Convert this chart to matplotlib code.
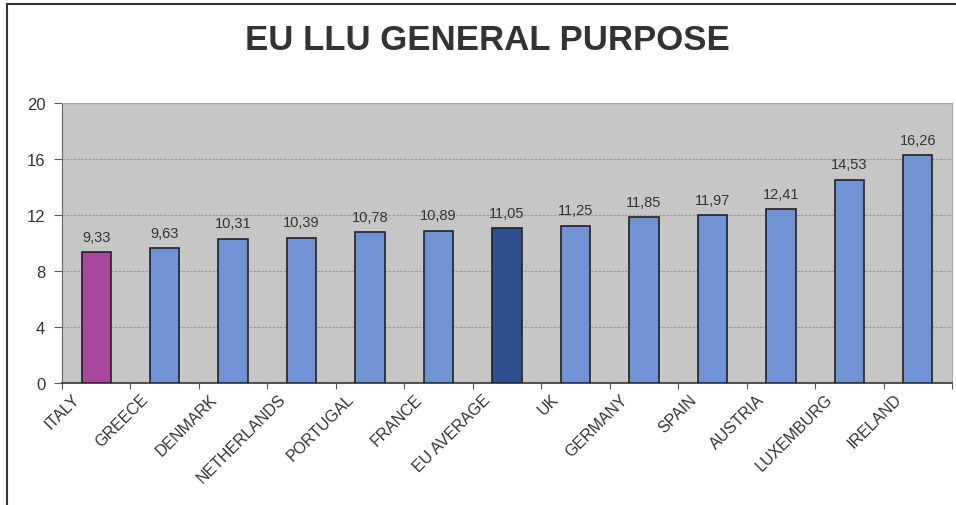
import matplotlib
matplotlib.use('Agg')
import matplotlib.pyplot as plt
from matplotlib.lines import Line2D
from matplotlib.transforms import ScaledTranslation, blended_transform_factory

## chart data
countries = ['ITALY', 'GREECE', 'DENMARK', 'NETHERLANDS', 'PORTUGAL', 'FRANCE',
             'EU AVERAGE', 'UK', 'GERMANY', 'SPAIN', 'AUSTRIA', 'LUXEMBURG', 'IRELAND']
values = [9.33, 9.63, 10.31, 10.39, 10.78, 10.89, 11.05, 11.25, 11.85, 11.97, 12.41, 14.53, 16.26]
value_labels = ['9,33', '9,63', '10,31', '10,39', '10,78', '10,89', '11,05',
                '11,25', '11,85', '11,97', '12,41', '14,53', '16,26']
y_ticks = [0, 4, 8, 12, 16, 20]

plt.rcParams['font.family'] = ['Liberation Sans', 'DejaVu Sans']

colors = []
for c in countries:
    if c == 'ITALY':
        colors.append('#a8489c')
    elif c == 'EU AVERAGE':
        colors.append('#2e5190')
    else:
        colors.append('#7093d6')

fig = plt.figure(figsize=(9.56, 5.06), dpi=100)
ax = fig.add_axes([62/956, 1-384/506, 890/956, 280/506])
ax.set_facecolor('#c6c6c6')

x = list(range(len(countries)))
ax.bar(x, values, width=0.43, color=colors, edgecolor='#222222', linewidth=1.2, zorder=3)

for xi, v, lab in zip(x, values, value_labels):
    ax.text(xi, v + 0.6, lab, ha='center', va='bottom', fontsize=10.5, color='#333333')

ax.set_xlim(-0.5, len(countries) - 0.5)
ax.set_ylim(0, 20)
ax.set_yticks(y_ticks)
ax.set_yticklabels([str(t) for t in y_ticks], fontsize=12, color='#333333')
ax.yaxis.grid(True, color='#9a9a9a', linestyle=(0, (2, 1)), linewidth=0.9, zorder=1)

## ticks between categories
ax.set_xticks([i - 0.5 for i in range(len(countries) + 1)])
ax.set_xticklabels([])
ax.tick_params(axis='x', which='major', length=4, color='#555555')
ax.tick_params(axis='y', length=6, color='#555555', pad=6)

## category names, rotated, set a bit left of each bar centre like excel does
trans = blended_transform_factory(ax.transData, ax.transAxes) + ScaledTranslation(-0.24, -0.08, fig.dpi_scale_trans)
for xi, name in zip(x, countries):
    ax.text(xi, 0, name, transform=trans, rotation=45, rotation_mode='anchor',
            ha='right', va='top', fontsize=11.5, color='#333333', clip_on=False)

for s in ['top', 'right']:
    ax.spines[s].set_color('#aaaaaa')
    ax.spines[s].set_linewidth(0.8)
ax.spines['left'].set_color('#666666')
ax.spines['bottom'].set_color('#333333')
ax.spines['bottom'].set_linewidth(1.2)

fig.text(487/956, 1-41/506, 'EU LLU GENERAL PURPOSE', ha='center', va='center',
         fontsize=25, fontweight='bold', color='#333333')

## outer frame (left and top edges visible)
fig.add_artist(Line2D([7/956, 7/956], [0, 1-5/506], transform=fig.transFigure, color='#333333', linewidth=1.5))
fig.add_artist(Line2D([7/956, 1], [1-5/506, 1-5/506], transform=fig.transFigure, color='#333333', linewidth=1.5))

plt.savefig('out.png', dpi=100)
